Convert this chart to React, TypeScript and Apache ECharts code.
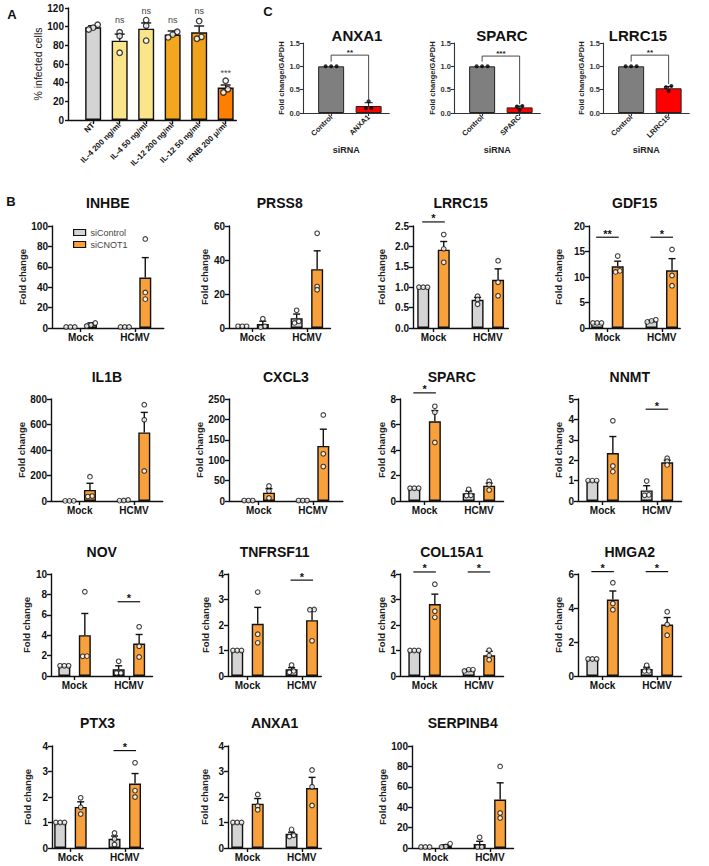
import React, { useEffect, useRef } from 'react';
import * as echarts from 'echarts';

const FONT = '"Liberation Sans", Arial, Helvetica, sans-serif';
const INK = '#111111';

// ---------------- Panel A data ----------------
const aCategories = ['NT', 'IL-4 200 ng/ml', 'IL-4 50 ng/ml', 'IL-12 200 ng/ml', 'IL-12 50 ng/ml', 'IFNB 200 μ/ml'];
const aMeans = [99.3, 85, 97.8, 91.5, 94, 34.8];
const aErrTop = [101, 92, 104, 95.4, 100.7, 37.5];
const aPoints = [[102, 99, 97], [94, 90, 72], [107, 101, 85], [94.5, 91.5, 88.5], [106, 89, 87], [42, 33, 29.5]];
const aMarks = ['', 'ns', 'ns', 'ns', 'ns', '***'];
const aMarkValues = [0, 107, 117, 107, 117, 50];

// ---------------- Panel C data ----------------
const cGenes = ['ANXA1', 'SPARC', 'LRRC15'];
const cControlName = 'Control';
const cMeans = [[1, 0.15], [1, 0.12], [1, 0.53]];
const cErrTop = [[1, 0.22], [1, 0.15], [1, 0.57]];
const cPoints = [
  [[1, 1, 1], [0.25, 0.1, 0.1]],
  [[1, 1, 1], [0.15, 0.14, 0.07]],
  [[1, 1, 1], [0.58, 0.55, 0.47]],
];
const cSigLabels = ['**', '***', '**'];
const cBracketTop = [1.24, 1.22, 1.24];
const cBracketLeftEnd = [1.1, 1.1, 1.1];
const cBracketRightEnd = [0.26, 0.19, 0.62];

// ---------------- Panel B data ----------------
const bGroups = ['Mock', 'HCMV'];
const bSeriesNames = ['siControl', 'siCNOT1'];
const bGenes = ['INHBE', 'PRSS8', 'LRRC15', 'GDF15', 'IL1B', 'CXCL3', 'SPARC', 'NNMT', 'NOV', 'TNFRSF11', 'COL15A1', 'HMGA2', 'PTX3', 'ANXA1', 'SERPINB4'];
const bYMax = [100, 60, 2.5, 20, 800, 250, 8, 5, 10, 4, 4, 6, 4, 4, 100];
const bYStep = [20, 20, 0.5, 5, 200, 50, 2, 1, 2, 1, 1, 2, 1, 1, 20];
const bCtrlMean = [[1, 1], [1, 5.8], [1, 0.69], [1, 1.4], [1, 5], [1, 1], [1, 0.6], [1, 0.52], [1, 0.65], [1, 0.26], [1, 0.23], [1, 0.41], [1, 0.36], [1, 0.56], [1, 4]];
const bCtrlTop = [[1, 1], [1, 8.2], [1, 0.75], [1, 1.5], [1, 6.5], [1, 1], [1, 0.78], [1, 0.75], [1, 1.0], [1, 0.33], [1, 0.25], [1, 0.52], [1, 0.47], [1, 0.62], [1, 6.6]];
const bCtrlPts = [
  [[1, 1, 1], [1, 1, 1]],
  [[1, 1, 1], [10.4, 4, 3]],
  [[1, 1, 1], [0.78, 0.7, 0.58]],
  [[1, 1, 1], [1.6, 1.4, 1.2]],
  [[1, 1, 1], [3, 8, 4]],
  [[1, 1, 1], [1, 1, 1]],
  [[1, 1, 1], [0.92, 0.45, 0.43]],
  [[1, 1, 1], [0.98, 0.3, 0.28]],
  [[1, 1, 1], [1.44, 0.3, 0.3]],
  [[1, 1, 1], [0.43, 0.2, 0.15]],
  [[1, 1, 1], [0.25, 0.25, 0.2]],
  [[1, 1, 1], [0.63, 0.3, 0.3]],
  [[1, 1, 1], [0.59, 0.35, 0.14]],
  [[1, 1, 1], [0.73, 0.5, 0.45]],
  [[1, 1, 1], [10.5, 1, 1]],
];
const bCnotMean = [[3.5, 49.5], [2.3, 34.6], [1.92, 1.18], [12.1, 11.3], [87, 538], [20.5, 135], [6.25, 1.2], [2.35, 1.9], [4.0, 3.18], [2.05, 2.19], [2.82, 0.81], [4.5, 3.03], [1.61, 2.53], [1.74, 2.35], [2.2, 47.5]];
const bCnotTop = [[5, 69], [4, 45.4], [2.12, 1.45], [13.1, 13.6], [139, 695], [30.3, 176], [7.09, 1.4], [3.16, 2.0], [6.13, 4.07], [2.69, 2.62], [3.21, 0.97], [5.0, 3.44], [1.81, 2.92], [1.94, 2.77], [3.2, 63.9]];
const bCnotPts = [
  [[5, 3, 2], [87.3, 34.9, 28.3]],
  [[5.5, 1, 0.5], [55.7, 24.4, 22.5]],
  [[2.29, 1.94, 1.61], [1.65, 1.12, 0.79]],
  [[14.1, 11.2, 11], [15.4, 10.3, 8.3]],
  [[191, 39, 35], [755, 637, 236]],
  [[36.9, 24.6, 7.4], [211, 115.6, 84.4]],
  [[7.43, 6.96, 4.59], [1.55, 1.3, 0.87]],
  [[3.93, 1.72, 1.44], [2.1, 1.95, 1.77]],
  [[8.26, 1.93, 1.95], [4.82, 2.92, 1.87]],
  [[3.29, 1.64, 1.3], [2.61, 2.6, 1.38]],
  [[3.6, 2.54, 2.3], [1.01, 0.8, 0.64]],
  [[5.49, 4.27, 3.9], [3.78, 3.03, 2.4]],
  [[1.97, 1.6, 1.33], [3.34, 2.25, 2.0]],
  [[2.1, 1.65, 1.5], [3.06, 2.4, 1.67]],
  [[4.3, 1.5, 1.0], [80, 34.4, 29.5]],
];
// significance: [groupIndex, line value, label]
const bSig: [number, number, string][][] = [
  [], [], [[0, 2.6, '*']], [[0, 17.8, '**'], [1, 17.8, '*']],
  [], [], [[0, 8.48, '*']], [[1, 4.5, '*']],
  [[1, 7.28, '*']], [[1, 3.76, '*']], [[0, 4.08, '*'], [1, 4.08, '*']], [[0, 6.14, '*'], [1, 6.14, '*']],
  [[1, 3.82, '*']], [], [],
];

// ---------------- Layout / style ----------------
const A_X_MIN = -0.95;
const B_ROW_TOP = [226, 399, 574, 746];
const B_ROW_TITLE_Y = [203, 377, 552, 723];
const B_PLOT_H = 102;
const B_UNIT = 20.5;
const B_POS = [[0, 1], [2.65, 3.65]];
// [left, row, pad, nameDistance]
const B_LAYOUT: [number, number, number, number][] = [
  [52, 0, 0.9, 25], [229, 0, 0.65, 24], [413, 0, 0.5, 32], [589, 0, 0.4, 31],
  [51, 1, 0.9, 24], [229, 1, 0.95, 24], [400, 1, 0.7, 18], [578, 1, 0.7, 20],
  [51, 2, 0.65, 24], [228, 2, 0.45, 23], [400, 2, 0.7, 18], [578, 2, 0.7, 20],
  [52, 3, 0.4, 25], [228, 3, 0.45, 24], [412, 3, 0.65, 30],
];
const B_COLORS = ['#D4D4D4', '#F8A03C'];
const A_COLORS = ['#D4D4D4', '#FBE58A', '#FBE58A', '#F3A71E', '#F1A21D', '#FF8000'];
const C_COLORS = ['#7F7F7F', '#FF0000'];
const C_LEFT = [303, 454, 603];
const C_TITLE_X = [357, 502, 638];

const axisLs = { color: INK, width: 1.4 };

function swarm(vals: number[], pxPerVal: number, step: number, thresh = 3) {
  const idx = vals.map((_, i) => i).sort((a, b) => vals[a] - vals[b]);
  const offs = new Array(vals.length).fill(0);
  let cluster: number[] = [idx[0]];
  const flush = () => {
    const n = cluster.length;
    cluster.forEach((id, k) => { offs[id] = (k - (n - 1) / 2) * step; });
  };
  for (let i = 1; i < idx.length; i++) {
    const prev = cluster[cluster.length - 1];
    if ((vals[idx[i]] - vals[prev]) * pxPerVal < thresh) cluster.push(idx[i]);
    else { flush(); cluster = [idx[i]]; }
  }
  flush();
  return offs;
}

function errRender(cap: number, lw: number) {
  return (params: any, api: any) => {
    const x = api.value(0), m = api.value(1), t = api.value(2);
    if (t <= m) return { type: 'group', children: [] };
    const p0 = api.coord([x, m]);
    const p1 = api.coord([x, t]);
    const st = { stroke: INK, lineWidth: lw };
    return {
      type: 'group',
      children: [
        { type: 'line', shape: { x1: p0[0], y1: p0[1], x2: p1[0], y2: p1[1] }, style: st },
        { type: 'line', shape: { x1: p1[0] - cap, y1: p1[1], x2: p1[0] + cap, y2: p1[1] }, style: st },
      ],
    };
  };
}

function textAt(x: number, y: number, text: string, fontSize: number, fontWeight: any = 'bold', align = 'center', fill = INK) {
  return {
    type: 'text', x, y, silent: true, z: 100,
    style: { text, fontSize, fontWeight, fontFamily: FONT, fill, align, verticalAlign: 'middle' },
  };
}

function buildOption() {
  const grid: any[] = [], xAxis: any[] = [], yAxis: any[] = [], series: any[] = [], graphic: any[] = [];
  const gridBase = { containLabel: false, outerBoundsMode: 'none' };

  // ---------------- Panel A ----------------
  {
    const gi = grid.length;
    const unit = 26.5, h = 112;
    grid.push({ ...gridBase, left: 68, top: 8, width: 6.35 * unit, height: h });
    const ticks = aCategories.map((_, i) => i);
    xAxis.push({
      gridIndex: gi, type: 'value', min: A_X_MIN, max: 5.4,
      axisLine: { show: true, onZero: false, lineStyle: axisLs },
      axisTick: { show: true, customValues: ticks, length: 4, lineStyle: axisLs },
      axisLabel: { customValues: ticks, formatter: (v: number) => aCategories[Math.round(v)] ?? '', rotate: 45, fontSize: 8, fontWeight: 'bold', color: INK, margin: 4, fontFamily: FONT },
      splitLine: { show: false },
    });
    yAxis.push({
      gridIndex: gi, type: 'value', min: 0, max: 120, interval: 20,
      name: '% infected cells', nameLocation: 'middle', nameGap: 22,
      nameTextStyle: { fontSize: 10.5, color: INK, fontFamily: FONT },
      axisLine: { show: true, onZero: false, lineStyle: axisLs },
      axisTick: { show: true, length: 3, lineStyle: axisLs },
      axisLabel: { show: true, fontSize: 10, fontWeight: 'bold', color: INK, margin: 4, fontFamily: FONT },
      splitLine: { show: false },
    });
    series.push({
      type: 'bar', xAxisIndex: gi, yAxisIndex: gi, barWidth: 16, z: 2,
      itemStyle: { borderColor: INK, borderWidth: 1.4 },
      data: aMeans.map((m, i) => ({ value: [i, m], itemStyle: { color: A_COLORS[i] } })),
    });
    series.push({
      type: 'custom', xAxisIndex: gi, yAxisIndex: gi, z: 3, renderItem: errRender(5, 1.4),
      encode: { x: 0, y: [1, 2] }, data: aMeans.map((m, i) => [i, m, aErrTop[i]]),
    });
    const pts: number[][] = [];
    aPoints.forEach((vals, i) => {
      const offs = swarm(vals, h / 120, 4.5 / unit, 3.5);
      vals.forEach((v, k) => pts.push([i + offs[k], v]));
    });
    series.push({
      type: 'scatter', xAxisIndex: gi, yAxisIndex: gi, z: 4, symbol: 'circle', symbolSize: 5.5,
      itemStyle: { color: '#ffffff', borderColor: INK, borderWidth: 1.3 }, data: pts,
    });
    const markData = aMarks.map((t, i) => [i, aMarkValues[i]]).filter((_, i) => aMarks[i]);
    const markText = aMarks.filter((t) => t);
    series.push({
      type: 'custom', xAxisIndex: gi, yAxisIndex: gi, z: 5, clip: false,
      encode: { x: 0, y: 1 }, data: markData,
      renderItem: (params: any, api: any) => {
        const p = api.coord([api.value(0), api.value(1)]);
        return { type: 'text', x: p[0], y: p[1], style: { text: markText[params.dataIndex], fontSize: 9, fontFamily: FONT, fill: '#444', align: 'center', verticalAlign: 'middle' } };
      },
    });
    graphic.push(textAt(12, 14, 'A', 13));
  }

  // ---------------- Panel C ----------------
  graphic.push(textAt(268, 11, 'C', 13));
  cGenes.forEach((gene, ci) => {
    const gi = grid.length;
    const unit = 37.5;
    const min = -0.75, max = 1.55;
    grid.push({ ...gridBase, left: C_LEFT[ci], top: 43, width: (max - min) * unit, height: 70 });
    const names = [cControlName, gene];
    xAxis.push({
      gridIndex: gi, type: 'value', min, max,
      name: 'siRNA', nameLocation: 'middle', nameGap: 32,
      nameTextStyle: { fontSize: 9, fontWeight: 'bold', color: '#222', fontFamily: FONT },
      axisLine: { show: true, onZero: false, lineStyle: { color: '#333', width: 1.1 } },
      axisTick: { show: true, customValues: [0, 1], length: 3, lineStyle: { color: '#333', width: 1.1 } },
      axisLabel: { customValues: [0, 1], formatter: (v: number) => names[Math.round(v)] ?? '', rotate: 45, fontSize: 7.5, fontWeight: 'bold', color: '#222', margin: 3, fontFamily: FONT },
      splitLine: { show: false },
    });
    yAxis.push({
      gridIndex: gi, type: 'value', min: 0, max: 1.5, interval: 0.5,
      name: 'Fold change/GAPDH', nameLocation: 'middle', nameGap: 15,
      nameTextStyle: { fontSize: 7.5, fontWeight: 'bold', color: '#222', fontFamily: FONT },
      axisLine: { show: true, onZero: false, lineStyle: { color: '#333', width: 1.1 } },
      axisTick: { show: true, length: 3, lineStyle: { color: '#333', width: 1.1 } },
      axisLabel: { fontSize: 7.5, fontWeight: 'bold', color: '#333', margin: 3, fontFamily: FONT, formatter: (v: number) => v.toFixed(1) },
      splitLine: { show: false },
    });
    series.push({
      type: 'bar', xAxisIndex: gi, yAxisIndex: gi, barWidth: 26, z: 2,
      itemStyle: { borderColor: '#222', borderWidth: 1 },
      data: cMeans[ci].map((m, i) => ({ value: [i, m], itemStyle: { color: C_COLORS[i] } })),
    });
    series.push({
      type: 'custom', xAxisIndex: gi, yAxisIndex: gi, z: 3, renderItem: errRender(4, 1),
      encode: { x: 0, y: [1, 2] }, data: cMeans[ci].map((m, i) => [i, m, cErrTop[ci][i]]),
    });
    const pts: number[][] = [];
    cPoints[ci].forEach((vals, i) => {
      const offs = swarm(vals, 70 / 1.5, 5.5 / unit, 3);
      vals.forEach((v, k) => pts.push([i + offs[k], v]));
    });
    series.push({
      type: 'scatter', xAxisIndex: gi, yAxisIndex: gi, z: 4, symbol: 'circle', symbolSize: 4,
      itemStyle: { color: '#000' }, data: pts,
    });
    const label = cSigLabels[ci];
    series.push({
      type: 'custom', xAxisIndex: gi, yAxisIndex: gi, z: 5, clip: false,
      encode: { x: [0, 1], y: [2, 3, 4] },
      data: [[0, 1, cBracketTop[ci], cBracketLeftEnd[ci], cBracketRightEnd[ci]]],
      renderItem: (params: any, api: any) => {
        const a = api.coord([api.value(0), api.value(3)]);
        const b = api.coord([api.value(0), api.value(2)]);
        const c = api.coord([api.value(1), api.value(2)]);
        const d = api.coord([api.value(1), api.value(4)]);
        return {
          type: 'group', children: [
            { type: 'polyline', shape: { points: [a, b, c, d] }, style: { stroke: '#333', lineWidth: 0.9, fill: null } },
            { type: 'text', x: (b[0] + c[0]) / 2, y: b[1] + 1, style: { text: label, fontSize: 8, fontWeight: 'bold', fontFamily: FONT, fill: '#222', align: 'center', verticalAlign: 'bottom' } },
          ],
        };
      },
    });
    graphic.push(textAt(C_TITLE_X[ci], 35, gene, 15));
  });

  // ---------------- Panel B ----------------
  graphic.push(textAt(11, 201, 'B', 13));
  bGenes.forEach((gene, gIdx) => {
    const [left, row, pad, nameDist] = B_LAYOUT[gIdx];
    const gi = grid.length;
    const min = -pad, max = 3.65 + pad;
    const width = (max - min) * B_UNIT;
    const top = B_ROW_TOP[row];
    grid.push({ ...gridBase, left, top, width, height: B_PLOT_H });
    const tickVals = B_POS.map((p) => (p[0] + p[1]) / 2);
    xAxis.push({
      gridIndex: gi, type: 'value', min, max,
      axisLine: { show: true, onZero: false, lineStyle: axisLs },
      axisTick: { show: true, customValues: tickVals, length: 4, lineStyle: axisLs },
      axisLabel: {
        customValues: tickVals,
        formatter: (v: number) => bGroups[tickVals.findIndex((t) => Math.abs(t - v) < 0.01)] ?? '',
        fontSize: 10, fontWeight: 'bold', color: INK, margin: 4, fontFamily: FONT,
      },
      splitLine: { show: false },
    });
    const step = bYStep[gIdx];
    yAxis.push({
      gridIndex: gi, type: 'value', min: 0, max: bYMax[gIdx], interval: step,
      name: 'Fold change', nameLocation: 'middle', nameGap: nameDist - 5,
      nameTextStyle: { fontSize: 9.5, fontWeight: 'bold', color: '#222', fontFamily: FONT },
      axisLine: { show: true, onZero: false, lineStyle: axisLs },
      axisTick: { show: true, length: 4, lineStyle: axisLs },
      axisLabel: { fontSize: 10, fontWeight: 'bold', color: INK, margin: 4, fontFamily: FONT, formatter: (v: number) => (step < 1 ? v.toFixed(1) : String(v)) },
      splitLine: { show: false },
    });
    const means = [bCtrlMean[gIdx], bCnotMean[gIdx]];
    const tops = [bCtrlTop[gIdx], bCnotTop[gIdx]];
    const ptsAll = [bCtrlPts[gIdx], bCnotPts[gIdx]];
    const pxPerVal = B_PLOT_H / bYMax[gIdx];
    [0, 1].forEach((s) => {
      series.push({
        name: bSeriesNames[s], type: 'bar', xAxisIndex: gi, yAxisIndex: gi, barWidth: 12, barGap: '-100%', z: 2,
        itemStyle: { color: B_COLORS[s], borderColor: INK, borderWidth: 1.4 },
        data: bGroups.map((_, g) => [B_POS[g][s], means[s][g]]),
      });
    });
    const errData: number[][] = [];
    const pts: number[][] = [];
    [0, 1].forEach((s) => {
      bGroups.forEach((_, g) => {
        const x = B_POS[g][s];
        errData.push([x, means[s][g], tops[s][g]]);
        const vals = ptsAll[s][g];
        const offs = swarm(vals, pxPerVal, 4.3 / B_UNIT, 3);
        vals.forEach((v, k) => pts.push([x + offs[k], v]));
      });
    });
    series.push({
      type: 'custom', xAxisIndex: gi, yAxisIndex: gi, z: 3, renderItem: errRender(3.5, 1.4),
      encode: { x: 0, y: [1, 2] }, data: errData,
    });
    series.push({
      type: 'scatter', xAxisIndex: gi, yAxisIndex: gi, z: 4, symbol: 'circle', symbolSize: 4.6,
      itemStyle: { color: '#ffffff', borderColor: INK, borderWidth: 1.1 }, data: pts,
    });
    const sig = bSig[gIdx];
    if (sig.length) {
      series.push({
        type: 'custom', xAxisIndex: gi, yAxisIndex: gi, z: 5, clip: false,
        encode: { x: [0, 1], y: 2 },
        data: sig.map(([g, y]) => [B_POS[g][0] - 0.05, B_POS[g][1] + 0.05, y]),
        renderItem: (params: any, api: any) => {
          const a = api.coord([api.value(0), api.value(2)]);
          const b = api.coord([api.value(1), api.value(2)]);
          return {
            type: 'group', children: [
              { type: 'line', shape: { x1: a[0], y1: a[1], x2: b[0], y2: b[1] }, style: { stroke: INK, lineWidth: 1.2 } },
              { type: 'text', x: (a[0] + b[0]) / 2, y: a[1] + 2, style: { text: sig[params.dataIndex][2], fontSize: 11, fontWeight: 'bold', fontFamily: FONT, fill: INK, align: 'center', verticalAlign: 'bottom' } },
            ],
          };
        },
      });
    }
    graphic.push(textAt(left + width / 2, B_ROW_TITLE_Y[row], gene, 14));
  });

  return {
    animation: false,
    backgroundColor: '#ffffff',
    textStyle: { fontFamily: FONT },
    grid, xAxis, yAxis, series, graphic,
    legend: {
      orient: 'vertical', left: 68, top: 223, itemWidth: 12, itemHeight: 6, itemGap: 3,
      icon: 'rect', selectedMode: false,
      textStyle: { fontSize: 9, color: '#444', fontFamily: FONT },
      data: bSeriesNames.map((n, i) => ({ name: n, itemStyle: { color: B_COLORS[i], borderColor: INK, borderWidth: 1.2 } })),
    },
  };
}

export default function App() {
  const ref = useRef<HTMLDivElement>(null);
  useEffect(() => {
    document.body.style.margin = '0';
    const chart = echarts.init(ref.current as HTMLDivElement, null, { renderer: 'svg' });
    chart.setOption(buildOption() as any);
    return () => chart.dispose();
  }, []);
  return <div ref={ref} style={{ width: 709, height: 866 }} />;
}
